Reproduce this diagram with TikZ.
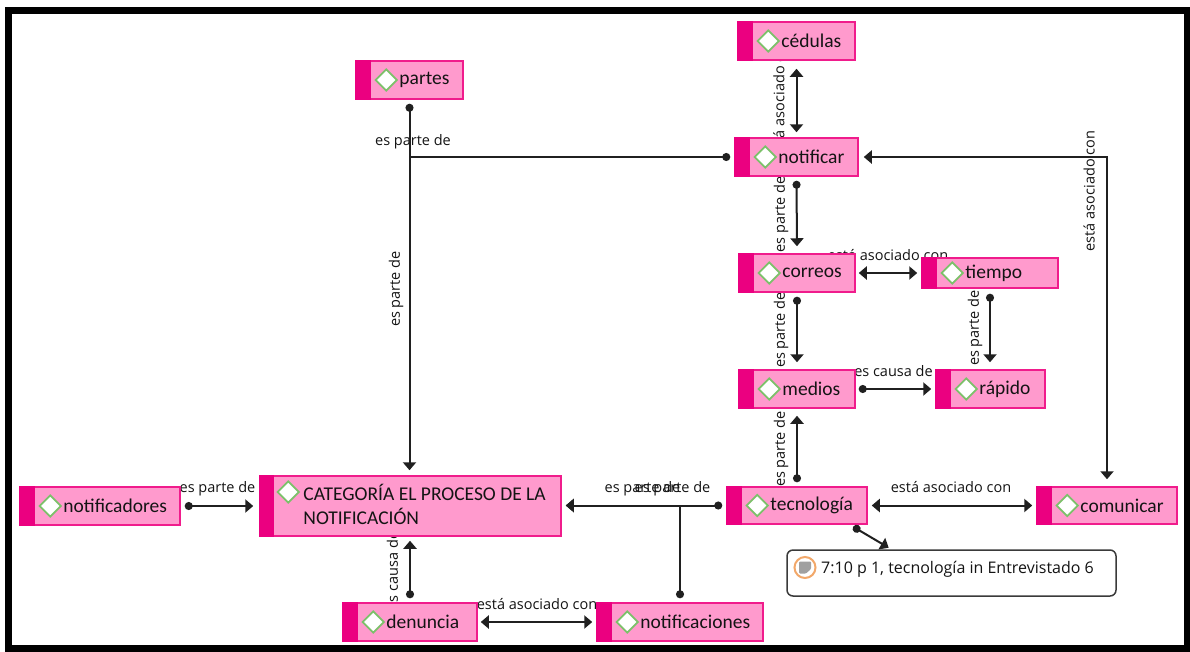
\documentclass[tikz,border=0pt]{standalone}
\usepackage{fontspec}
\setmainfont{Carlito}
\newfontfamily\lblfont{Open Sans}
\usetikzlibrary{arrows.meta,shapes.geometric,calc}
\pgfdeclarelayer{backdrop}
\pgfdeclarelayer{bg}
\pgfsetlayers{backdrop,bg,main}
\definecolor{cfill}{HTML}{FF9ACD}
\definecolor{cborder}{HTML}{F01C8C}
\definecolor{cstrip}{HTML}{EB0080}
\definecolor{dgreen}{HTML}{7CC16A}
\definecolor{ctxt}{HTML}{141414}
\definecolor{lncol}{HTML}{202020}
\definecolor{memoborder}{HTML}{3A3A3A}
\definecolor{morange}{HTML}{F2A86A}
\definecolor{notegray}{HTML}{A0A0A0}
\newcommand{\conceptbox}[6]{%
  \node[concept, minimum width={#4-#2}, minimum height={#5-#3}] (#1) at ({(#2+#4)/2},{(#3+#5)/2}) {};
  \fill[cstrip] (#1.north west) rectangle ([xshift=16pt]#1.south west);
  \node[diam] (#1-d) at ([xshift=31pt]#1.west) {};
  \node[ctext] (#1-t) at ([xshift=44pt]#1.west) {#6};
}
\begin{document}
\begin{tikzpicture}[x=1pt,y=-1pt,
  concept/.style={rectangle, draw=cborder, fill=cfill, line width=1.5pt, inner sep=0pt},
  diam/.style={diamond, draw=dgreen, fill=white, line width=1.8pt, minimum width=22pt, minimum height=22pt, inner sep=0pt},
  ctext/.style={inner sep=0pt, text=ctxt, font=\fontsize{19.5}{24}\selectfont, anchor=west},
  lbl/.style={inner sep=0pt, text=ctxt, font=\lblfont\fontsize{14.5}{17}\selectfont},
  vlbl/.style={lbl, rotate=90},
  conn/.style={draw=lncol, line width=2pt},
  dotarrow/.style={conn, {Circle[length=8pt]}-{Triangle[length=8pt,width=13pt]}, shorten <=4pt, shorten >=5pt},
  dotline/.style={conn, {Circle[length=8pt]}-, shorten <=4pt},
  dbl/.style={conn, {Triangle[length=8pt,width=13pt]}-{Triangle[length=8pt,width=13pt]}, shorten <=5pt, shorten >=5pt},
  memo/.style={rectangle, rounded corners=6pt, draw=memoborder, fill=white, line width=1.5pt, inner sep=0pt},
]
\useasboundingbox (0,0) rectangle (1190,651);
\begin{pgfonlayer}{backdrop}
\fill[white] (0,0) rectangle (1190,651);
\draw[line width=7pt] (8,10.5) rectangle (1187,648.5);
\end{pgfonlayer}

% concept nodes
\conceptbox{cedulas}{738}{22}{855}{60}{cédulas}
\conceptbox{partes}{356}{61}{463}{99}{partes}
\conceptbox{notificar}{735}{138}{858}{176}{notificar}
\conceptbox{correos}{739}{254}{855}{292}{correos}
\conceptbox{tiempo}{922}{258}{1058}{288}{tiempo}
\conceptbox{medios}{739}{370}{855}{408}{medios}
\conceptbox{rapido}{936}{370}{1045}{408}{rápido}
\conceptbox{tecnologia}{727}{487}{867}{524}{tecnología}
\conceptbox{comunicar}{1037}{487}{1177}{524}{comunicar}
\conceptbox{notificadores}{20}{487}{180}{525}{notificadores}
\conceptbox{denuncia}{343}{603}{477}{641}{denuncia}
\conceptbox{notificaciones}{597}{603}{763}{641}{notificaciones}

\node[concept, minimum width=301, minimum height=60] (CAT) at (410.5,506) {};
\fill[cstrip] (CAT.north west) rectangle ([xshift=15pt]CAT.south west);
\node[diam] (CAT-d) at ([xshift=29pt,yshift=14pt]CAT.west) {};
\node[ctext, align=left] (CAT-t) at ([xshift=44pt,yshift=2pt]CAT.west) {CATEGORÍA EL PROCESO DE LA\\NOTIFICACIÓN};

% memo
\node[memo, minimum width=329, minimum height=46] (memo) at (951.5,573) {};
\node[circle, draw=morange, fill=white, line width=2pt, minimum size=21pt, inner sep=0pt] (memoicon) at (805,567.5) {};
\fill[notegray, rounded corners=1pt] (799,561.5) -- (811,561.5) -- (811,569) -- (806,573.5) -- (799,573.5) -- cycle;
\node[lbl, anchor=west, font=\lblfont\fontsize{16}{19}\selectfont] (memo-t) at (821,569) {7:10 p 1, tecnología in Entrevistado 6};

% labels (behind boxes)
\begin{pgfonlayer}{bg}
\node[lbl] (l1) at (413,142) {es parte de};
\node[vlbl] (l2) at (396,289) {es parte de};
\node[vlbl] (l3) at (779,98) {está asociado con};
\node[vlbl] (l4) at (781,214.5) {es parte de};
\node[lbl] (l5) at (888,255) {está asociado con};
\node[vlbl] (l6) at (781,330) {es parte de};
\node[vlbl] (l7) at (975,328) {es parte de};
\node[lbl] (l8) at (893.5,371.5) {es causa de};
\node[vlbl] (l9) at (781,449) {es parte de};
\node[vlbl] (l10) at (1089,191) {está asociado con};
\node[lbl] (l11) at (951,487.5) {está asociado con};
\node[lbl] (l12) at (642.5,489) {es parte de};
\node[lbl] (l13) at (672.5,489) {es parte de};
\node[lbl] (l14) at (217.5,489) {es parte de};
\node[vlbl] (l15) at (392.5,571) {es causa de};
\node[lbl] (l16) at (537,604) {está asociado con};
\end{pgfonlayer}

% connectors
\coordinate (j1) at (partes.south |- notificar.west);
\coordinate (j2) at (notificaciones.north |- tecnologia.west);
\draw[dotarrow] (partes.south) -- (partes.south |- CAT.north);
\draw[dotline] (notificar.west) -- (j1);
\draw[dbl, shorten <=8pt] (cedulas.south) -- (notificar.north);
\draw[dotarrow, shorten >=7pt] (notificar.south) -- (correos.north);
\draw[dbl, shorten <=3pt, shorten >=4pt] (correos.east) -- (correos.east -| tiempo.west);
\draw[dotarrow, shorten >=7pt] (correos.south) -- (medios.north);
\draw[dotarrow, shorten <=5pt, shorten >=7pt] (tiempo.south) -- (tiempo.south |- rapido.north);
\draw[dotarrow, shorten <=3pt, shorten >=4pt] (medios.east) -- (medios.east -| rapido.west);
\draw[dotarrow, shorten >=7pt] (tecnologia.north) -- (medios.south);
\draw[dbl, shorten <=4pt, shorten >=4pt] (tecnologia.east) -- (comunicar.west);
\draw[dbl, shorten <=7pt] (comunicar.north) |- (notificar.east);
\draw[dotarrow, shorten >=4pt] (tecnologia.west) -- (tecnologia.west -| CAT.east);
\draw[dotarrow, shorten >=4pt] (notificaciones.north) -- (j2) -- (j2 -| CAT.east);
\draw[dotarrow, shorten >=6pt] (notificadores.east) -- (notificadores.east -| CAT.west);
\draw[dotarrow, shorten >=4pt] (denuncia.north) -- (denuncia.north |- CAT.south);
\draw[dbl, shorten <=3pt, shorten >=4pt] (denuncia.east) -- (notificaciones.west);
\draw[dotarrow, shorten >=3pt] ([xshift=-18pt]tecnologia.south east) -- ([xshift=105pt]memo.north west);
\end{tikzpicture}
\end{document}
